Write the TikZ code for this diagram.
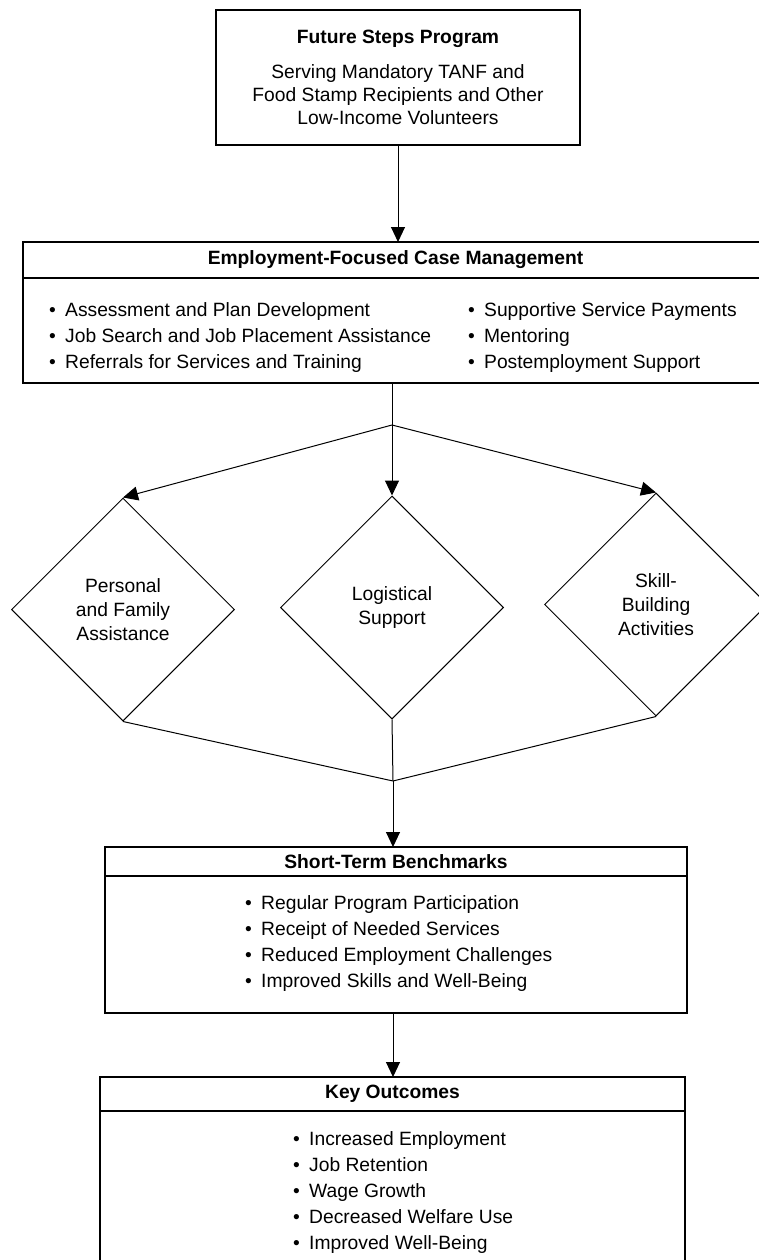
\documentclass[tikz,border=0pt]{standalone}
\usepackage{fontspec}
\setmainfont{Liberation Sans}
\usetikzlibrary{shapes.geometric,arrows.meta,positioning}

\newcommand{\itm}[1]{\makebox[16pt][l]{\textbullet}#1}

\begin{document}
\begin{tikzpicture}[x=1pt, y=-1pt,
  every node/.style={font=\fontsize{19.25}{23}\selectfont},
  box/.style={draw, line width=1.2pt, inner sep=0pt, outer sep=0pt},
  head/.style={box, font=\fontsize{19.25}{23}\selectfont\bfseries},
  list/.style={inner sep=0pt, anchor=west, align=left, font=\fontsize{19.25}{26}\selectfont},
  diam/.style={draw, diamond, line width=1pt, inner sep=0pt, minimum width=223pt, minimum height=223pt, align=center, font=\fontsize{19.25}{24}\selectfont},
  link/.style={line width=1pt},
  arrow/.style={link, -{Triangle[width=14pt,length=15pt]}}]
\useasboundingbox (0,0) rectangle (759,1260);
\clip (0,0) rectangle (759,1260);

% program
\node[box, minimum width=364pt, minimum height=135pt, align=center] (fsp) at (398,77.5)
  {\textbf{Future Steps Program}\\[12pt]Serving Mandatory TANF and\\Food Stamp Recipients and Other\\Low-Income Volunteers};

% case management
\node[head, minimum width=745pt, minimum height=36pt] (efcmhead) at (395.5,260) {Employment-Focused Case Management};
\node[box, minimum width=745pt, minimum height=105pt, below=0pt of efcmhead] (efcm) {};
\node[list] (efcmleft) at (49,337.5) {\itm{Assessment and Plan Development}\\\itm{Job Search and Job Placement Assistance}\\\itm{Referrals for Services and Training}};
\node[list] (efcmright) at (468,337.5) {\itm{Supportive Service Payments}\\\itm{Mentoring}\\\itm{Postemployment Support}};

% services
\node[diam] (pfa) at (123,609.5) {Personal\\and Family\\Assistance};
\node[diam] (logi) at (392,607.5) {Logistical\\Support};
\node[diam] (skill) at (656,604.5) {Skill-\\Building\\Activities};

% benchmarks
\node[head, minimum width=582pt, minimum height=29pt] (stbhead) at (396,861.5) {Short-Term Benchmarks};
\node[box, minimum width=582pt, minimum height=137pt, below=0pt of stbhead] (stb) {};
\node[list] (stblist) at (245,944) {\itm{Regular Program Participation}\\\itm{Receipt of Needed Services}\\\itm{Reduced Employment Challenges}\\\itm{Improved Skills and Well-Being}};

% outcomes
\node[head, minimum width=585pt, minimum height=34pt] (kohead) at (392.5,1094) {Key Outcomes};
\node[box, minimum width=585pt, minimum height=170pt, below=0pt of kohead] (ko) {};
\node[list] (kolist) at (293,1192.5) {\itm{Increased Employment}\\\itm{Job Retention}\\\itm{Wage Growth}\\\itm{Decreased Welfare Use}\\\itm{Improved Well-Being}};

% connectors
\coordinate (split) at (392,425);
\coordinate (merge) at (393,781);
\draw[arrow] (fsp.south) -- (fsp.south |- efcmhead.north);
\draw[link] (efcm.south -| split) -- (split);
\foreach \d in {pfa,logi,skill}{
  \draw[arrow] (split) -- (\d.north);
  \draw[link] (\d.south) -- (merge);
}
\draw[arrow] (merge) -- (merge |- stbhead.north);
\draw[arrow] (stb.south -| merge) -- (kohead.north -| merge);
\end{tikzpicture}
\end{document}
